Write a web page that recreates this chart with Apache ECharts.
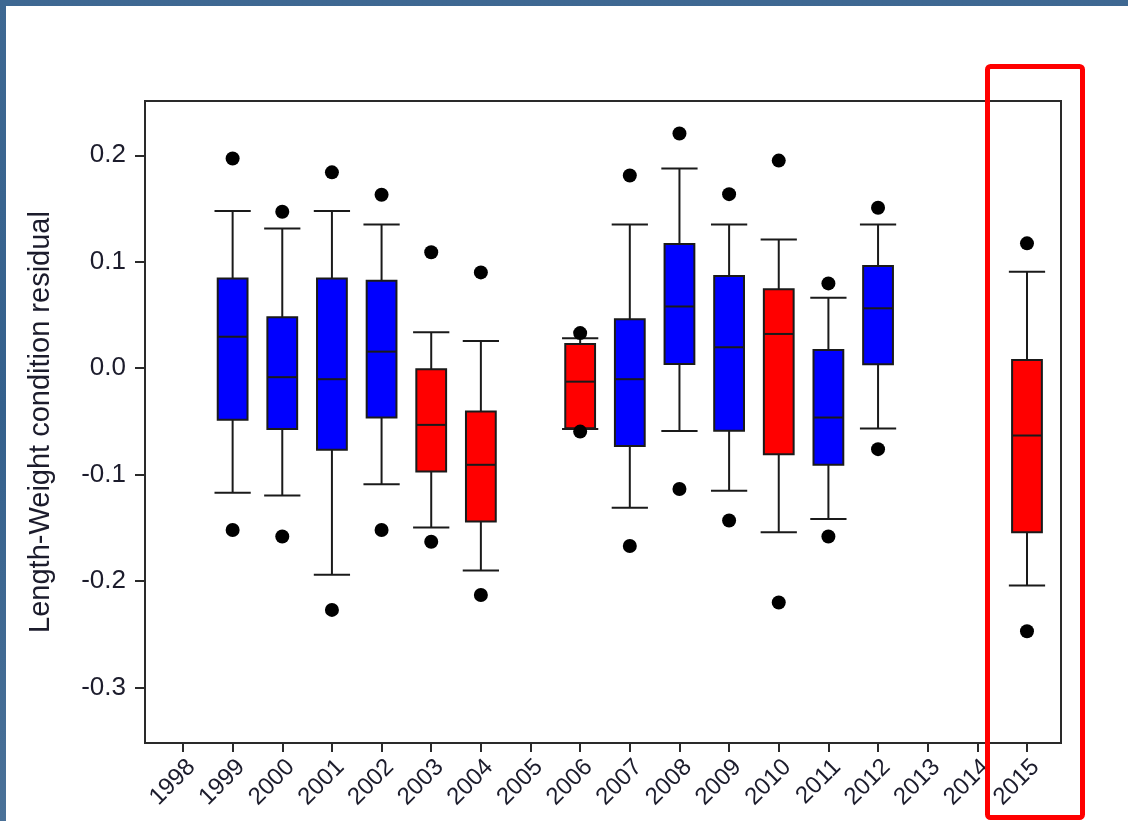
<!DOCTYPE html>
<html>
<head>
<meta charset="utf-8">
<script src="https://cdn.jsdelivr.net/npm/echarts@6/dist/echarts.min.js"></script>
<style>
  html, body { margin: 0; padding: 0; }
  body { width: 1128px; height: 821px; overflow: hidden;
         background: linear-gradient(180deg, #3e6892 0%, #34608c 50%, #4a7198 100%); position: relative; }
  #chart { position: absolute; left: 6px; top: 6px; width: 1122px; height: 815px; background: #ffffff; }
</style>
</head>
<body>
<div id="chart"></div>
<script>
// ---- Data ----
const tickYears = [1998, 1999, 2000, 2001, 2002, 2003, 2004, 2005, 2006, 2007, 2008, 2009, 2010, 2011, 2012, 2013, 2014, 2015];
const years        = [1999, 2000, 2001, 2002, 2003, 2004, 2006, 2007, 2008, 2009, 2010, 2011, 2012, 2015];
const whiskerLow   = [-0.117, -0.1195, -0.194, -0.109, -0.1495, -0.190, -0.057, -0.131, -0.059, -0.115, -0.154, -0.1417, -0.0566, -0.204];
const quartile1    = [-0.0485, -0.057, -0.0766, -0.0463, -0.097, -0.144, -0.0563, -0.073, 0.004, -0.0588, -0.0807, -0.0907, 0.0038, -0.154];
const medians      = [0.0296, -0.0084, -0.0103, 0.0156, -0.0532, -0.0907, -0.0126, -0.0103, 0.058, 0.0197, 0.0322, -0.0463, 0.0563, -0.0632];
const quartile3    = [0.0844, 0.0478, 0.0844, 0.0822, -0.001, -0.0407, 0.0228, 0.046, 0.1166, 0.0866, 0.0741, 0.0172, 0.096, 0.0078];
const whiskerHigh  = [0.1476, 0.1313, 0.1476, 0.1351, 0.0338, 0.0256, 0.0281, 0.135, 0.1876, 0.135, 0.121, 0.0662, 0.135, 0.0906];
const outlierHigh  = [0.197, 0.147, 0.184, 0.163, 0.109, 0.090, 0.033, 0.181, 0.2205, 0.1635, 0.195, 0.0797, 0.1507, 0.1173];
const outlierLow   = [-0.152, -0.158, -0.227, -0.152, -0.163, -0.213, -0.0595, -0.167, -0.1135, -0.143, -0.220, -0.158, -0.076, -0.247];
const groups       = ['b', 'b', 'b', 'b', 'r', 'r', 'r', 'b', 'b', 'b', 'r', 'b', 'b', 'r'];
const yTicks = [-0.3, -0.2, -0.1, 0.0, 0.1, 0.2];
const yTitle = 'Length-Weight condition residual';

const groupColor = { b: '#0000ff', r: '#ff0000' };
const boxData = years.map((y, i) => [y, whiskerLow[i], quartile1[i], medians[i], quartile3[i], whiskerHigh[i], i]);
const outlierData = [];
years.forEach((y, i) => { outlierData.push([y, outlierHigh[i]]); outlierData.push([y, outlierLow[i]]); });

const lineCol = '#1a1a1a';
const chart = echarts.init(document.getElementById('chart'));

function renderBox(params, api) {
  const x = api.value(0);
  const pLow = api.coord([x, api.value(1)]);
  const pQ1 = api.coord([x, api.value(2)]);
  const pMed = api.coord([x, api.value(3)]);
  const pQ3 = api.coord([x, api.value(4)]);
  const pHigh = api.coord([x, api.value(5)]);
  const idx = api.value(6);
  const boxW = api.size([0.6, 0])[0];
  const capW = api.size([0.73, 0])[0];
  const cx = pMed[0];
  const ls = { stroke: lineCol, lineWidth: 2 };
  return {
    type: 'group',
    children: [
      { type: 'line', shape: { x1: cx, y1: pHigh[1], x2: cx, y2: pQ3[1] }, style: ls },
      { type: 'line', shape: { x1: cx, y1: pQ1[1], x2: cx, y2: pLow[1] }, style: ls },
      { type: 'line', shape: { x1: cx - capW / 2, y1: pHigh[1], x2: cx + capW / 2, y2: pHigh[1] }, style: ls },
      { type: 'line', shape: { x1: cx - capW / 2, y1: pLow[1], x2: cx + capW / 2, y2: pLow[1] }, style: ls },
      { type: 'rect', shape: { x: cx - boxW / 2, y: pQ3[1], width: boxW, height: pQ1[1] - pQ3[1] },
        style: { fill: groupColor[groups[idx]], stroke: lineCol, lineWidth: 2 } },
      { type: 'line', shape: { x1: cx - boxW / 2, y1: pMed[1], x2: cx + boxW / 2, y2: pMed[1] }, style: ls }
    ]
  };
}

const fontFam = '"Liberation Sans", Arial, sans-serif';

chart.setOption({
  animation: false,
  backgroundColor: '#ffffff',
  grid: { left: 139, top: 95, right: 67, bottom: 78, show: true, borderColor: '#2a2a2a', borderWidth: 2, backgroundColor: 'transparent' },
  xAxis: {
    type: 'value', min: 1997.235, max: 2015.685,
    splitLine: { show: false },
    axisLine: { show: true, onZero: false, lineStyle: { color: '#2a2a2a', width: 2 } },
    axisTick: { show: true, customValues: tickYears, length: 9, lineStyle: { color: '#2a2a2a', width: 2 } },
    axisLabel: { customValues: tickYears, rotate: 45, margin: 12, verticalAlign: 'top', fontSize: 24, color: '#1c1c2c', fontFamily: fontFam,
                 formatter: v => String(Math.round(v)) }
  },
  yAxis: {
    type: 'value', min: -0.352, max: 0.251,
    name: yTitle, nameLocation: 'middle', nameGap: 90,
    nameTextStyle: { fontSize: 29, color: '#1c1c2c', fontFamily: fontFam },
    splitLine: { show: false },
    axisLine: { show: true, onZero: false, lineStyle: { color: '#2a2a2a', width: 2 } },
    axisTick: { show: true, customValues: yTicks, length: 10, lineStyle: { color: '#2a2a2a', width: 2 } },
    axisLabel: { customValues: yTicks, margin: 19, fontSize: 26, color: '#1c1c2c', fontFamily: fontFam,
                 formatter: v => (Math.abs(v) < 1e-9 ? 0 : v).toFixed(1) }
  },
  series: [
    { type: 'custom', renderItem: renderBox, data: boxData, encode: { x: 0, y: [1, 2, 3, 4, 5] }, z: 2 },
    { type: 'scatter', data: outlierData, symbol: 'circle', symbolSize: 14, itemStyle: { color: '#000000', opacity: 1 }, z: 5 }
  ],
  graphic: [
    { type: 'rect', z: 100, shape: { x: 981.5, y: 60.5, width: 95, height: 751, r: 3 },
      style: { fill: 'none', stroke: '#ff0000', lineWidth: 5 } }
  ]
});
</script>
</body>
</html>
